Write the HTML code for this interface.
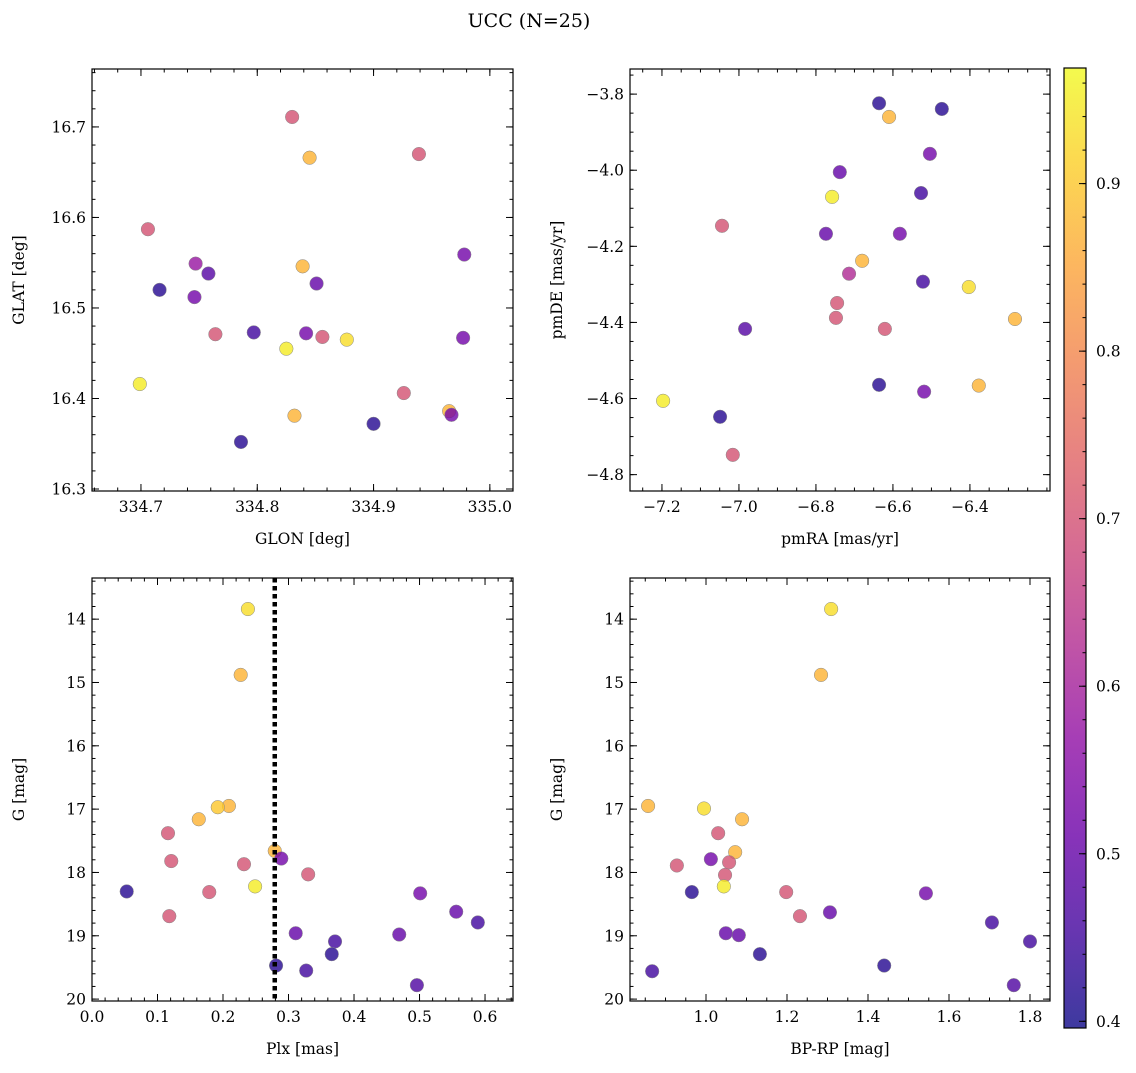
<!DOCTYPE html>
<html><head><meta charset="utf-8"><style>
body{margin:0;background:#fff;}
svg text{font-family:"DejaVu Serif","Liberation Serif",serif;fill:#000;}
</style></head><body>
<svg id="fig" width="1136" height="1068" xmlns="http://www.w3.org/2000/svg">
<text x="529" y="27" font-size="19" text-anchor="middle">UCC (N=25)</text>
</svg>
<script>
// Panel 1: GLON vs GLAT
const p1x=[334.830,334.845,334.939,334.706,334.978,334.747,334.839,334.758,334.716,334.746,334.851,334.764,334.797,334.842,334.856,334.825,334.877,334.977,334.699,334.926,334.832,334.965,334.967,334.900,334.786];
const p1y=[16.711,16.666,16.670,16.587,16.559,16.549,16.546,16.538,16.520,16.512,16.527,16.471,16.473,16.472,16.468,16.455,16.465,16.467,16.416,16.406,16.381,16.386,16.382,16.372,16.352];
const p1c=[0.70,0.87,0.70,0.70,0.52,0.58,0.87,0.48,0.42,0.52,0.50,0.70,0.45,0.52,0.70,0.95,0.93,0.52,0.95,0.70,0.87,0.87,0.52,0.42,0.42];
// Panel 2: pmRA vs pmDE
const p2x=[-6.636,-6.473,-6.610,-6.504,-6.738,-6.527,-6.758,-7.044,-6.774,-6.582,-6.680,-6.714,-6.403,-6.522,-6.745,-6.748,-6.283,-6.984,-6.621,-6.636,-6.377,-6.519,-7.197,-7.049,-7.016];
const p2y=[-3.824,-3.839,-3.860,-3.957,-4.005,-4.060,-4.070,-4.146,-4.167,-4.167,-4.238,-4.272,-4.307,-4.293,-4.349,-4.388,-4.391,-4.417,-4.417,-4.564,-4.566,-4.582,-4.606,-4.648,-4.748];
const p2c=[0.42,0.42,0.87,0.52,0.50,0.45,0.95,0.70,0.50,0.52,0.87,0.62,0.93,0.45,0.70,0.70,0.87,0.48,0.70,0.42,0.87,0.52,0.95,0.42,0.70];
// Panel 3: Plx vs G
const p3x=[0.238,0.227,0.209,0.192,0.163,0.116,0.279,0.289,0.121,0.232,0.330,0.249,0.053,0.179,0.501,0.556,0.118,0.589,0.311,0.469,0.371,0.366,0.281,0.327,0.496];
const p3y=[13.84,14.88,16.95,16.97,17.16,17.38,17.66,17.78,17.82,17.87,18.03,18.22,18.30,18.31,18.33,18.62,18.69,18.79,18.96,18.98,19.09,19.29,19.47,19.55,19.78];
const p3c=[0.93,0.87,0.87,0.90,0.87,0.70,0.87,0.52,0.70,0.70,0.70,0.95,0.42,0.70,0.52,0.50,0.70,0.45,0.50,0.50,0.45,0.42,0.42,0.45,0.47];
const plxLine=0.279;
// Panel 4: BP-RP vs G
const p4x=[1.309,1.284,0.857,0.995,1.089,1.030,1.072,1.012,1.057,0.928,1.047,1.044,0.965,1.198,1.543,1.232,1.306,1.706,1.049,1.081,1.800,1.133,1.440,0.867,1.760];
const p4y=[13.84,14.88,16.95,16.99,17.16,17.38,17.68,17.79,17.84,17.89,18.04,18.22,18.31,18.31,18.33,18.69,18.63,18.79,18.96,18.99,19.09,19.29,19.47,19.56,19.78];
const p4c=[0.93,0.87,0.87,0.93,0.87,0.70,0.87,0.52,0.70,0.70,0.70,0.95,0.42,0.70,0.52,0.70,0.50,0.45,0.50,0.50,0.45,0.42,0.42,0.45,0.47];
const cbTicks=[0.4,0.5,0.6,0.7,0.8,0.9];
const vmin=0.396, vmax=0.969;

const NS='http://www.w3.org/2000/svg';
const svg=document.getElementById('fig');
function mk(tag,attrs,parent){const e=document.createElementNS(NS,tag);for(const k in attrs)e.setAttribute(k,attrs[k]);(parent||svg).appendChild(e);return e;}
const stops=['#0d0887','#41049d','#6a00a8','#8f0da4','#b12a90','#cc4778','#e16462','#f2844b','#fca636','#fcce25','#f0f921'];
function hex(h){return[parseInt(h.substr(1,2),16),parseInt(h.substr(3,2),16),parseInt(h.substr(5,2),16)];}
function plasma(t){t=Math.max(0,Math.min(1,t));const f=t*10;const i=Math.min(9,Math.floor(f));const r=f-i;const a=hex(stops[i]),b=hex(stops[i+1]);return 'rgb('+a.map((v,k)=>Math.round(v+(b[k]-v)*r)).join(',')+')';}
function cmap(v){return plasma((v-vmin)/(vmax-vmin));}

function panel(name,box,xd,yd,xticks,yticks,xminor,yminor,xlab,ylab,xs,ys,cs,xfmt,yfmt){
  const L=box[0],T=box[1],R=box[2],B=box[3];
  const g=mk('g',{});
  
  
  const sx=v=>L+(v-xd[0])/(xd[1]-xd[0])*(R-L);
  const sy=v=>B-(v-yd[0])/(yd[1]-yd[0])*(B-T);
  const marks=mk('g',{},g);
  
  
  for(let i=0;i<xs.length;i++){
    const c=mk('circle',{cx:sx(xs[i]),cy:sy(ys[i]),r:6.8,fill:cmap(cs[i]),'fill-opacity':0.8,stroke:'#888','stroke-width':0.5},marks);
    
    
  }
  mk('rect',{x:L,y:T,width:R-L,height:B-T,fill:'none',stroke:'#000','stroke-width':1.2},g);
  const tk=mk('g',{stroke:'#000','stroke-width':1},g);
  const xlo=Math.min(xd[0],xd[1]),xhi=Math.max(xd[0],xd[1]),ylo=Math.min(yd[0],yd[1]),yhi=Math.max(yd[0],yd[1]);
  for(let k=Math.ceil(xlo/xminor-1e-6);k<=Math.floor(xhi/xminor+1e-6);k++){const x=sx(k*xminor);mk('line',{x1:x,x2:x,y1:B,y2:B-3.5},tk);mk('line',{x1:x,x2:x,y1:T,y2:T+3.5},tk);}
  for(let k=Math.ceil(ylo/yminor-1e-6);k<=Math.floor(yhi/yminor+1e-6);k++){const y=sy(k*yminor);mk('line',{y1:y,y2:y,x1:L,x2:L+3.5},tk);mk('line',{y1:y,y2:y,x1:R,x2:R-3.5},tk);}
  xticks.forEach(v=>{const x=sx(v);mk('line',{x1:x,x2:x,y1:B,y2:B-7},tk);mk('line',{x1:x,x2:x,y1:T,y2:T+7},tk);
    const t=mk('text',{x:x,y:B+21,'font-size':15.5,'text-anchor':'middle'},g);t.textContent=xfmt(v);});
  yticks.forEach(v=>{const y=sy(v);mk('line',{y1:y,y2:y,x1:L,x2:L+7},tk);mk('line',{y1:y,y2:y,x1:R,x2:R-7},tk);
    const t=mk('text',{x:L-6,y:y+5.5,'font-size':15.5,'text-anchor':'end'},g);t.textContent=yfmt(v);});
  const xl=mk('text',{x:(L+R)/2,y:B+53,'font-size':15.5,'text-anchor':'middle'},g);xl.textContent=xlab;
  
  const yx=L-68, yy=(T+B)/2;
  const yl=mk('text',{x:yx,y:yy,'font-size':15.5,'text-anchor':'middle',transform:'rotate(-90 '+yx+' '+yy+')'},g);yl.textContent=ylab;
  
  return {sx:sx,sy:sy,g:g};
}
const neg=s=>s.replace('-','\u2212');
const f1=v=>neg(v.toFixed(1));
const f0=v=>String(v);
const gt=[14,15,16,17,18,19,20];

panel('glon-glat-panel',[92,69,513,491],[334.6579,335.0199],[16.2978,16.764],[334.7,334.8,334.9,335.0],[16.3,16.4,16.5,16.6,16.7],0.02,0.02,'GLON [deg]','GLAT [deg]',p1x,p1y,p1c,f1,f1);
panel('pmra-pmde-panel',[630,69,1050,491],[-7.283,-6.192],[-4.843,-3.734],[-7.2,-7.0,-6.8,-6.6,-6.4],[-4.8,-4.6,-4.4,-4.2,-4.0,-3.8],0.05,0.05,'pmRA [mas/yr]','pmDE [mas/yr]',p2x,p2y,p2c,f1,f1);
const p3=panel('plx-g-panel',[92,578,513,1001],[0,0.6427],[20.03,13.35],[0,0.1,0.2,0.3,0.4,0.5,0.6],gt,0.02,0.2,'Plx [mas]','G [mag]',p3x,p3y,p3c,f1,f0);
const vl=mk('line',{x1:p3.sx(plxLine),x2:p3.sx(plxLine),y1:578,y2:1001,stroke:'#000','stroke-width':4.5,'stroke-dasharray':'4.5,3.5'},p3.g);


panel('bprp-g-panel',[630,578,1050,1001],[0.8123,1.8494],[20.03,13.35],[1.0,1.2,1.4,1.6,1.8],gt,0.05,0.2,'BP-RP [mag]','G [mag]',p4x,p4y,p4c,f1,f0);

const cb=mk('g',{});


const CL=1064,CR=1086,CT=68,CB=1028;
const defs=mk('defs',{});
const grad=mk('linearGradient',{id:'pl',x1:0,y1:1,x2:0,y2:0},defs);
stops.forEach((s,i)=>mk('stop',{offset:(i/10),'stop-color':s},grad));
mk('rect',{x:CL,y:CT,width:CR-CL,height:CB-CT,fill:'url(#pl)','fill-opacity':0.8},cb);
mk('rect',{x:CL,y:CT,width:CR-CL,height:CB-CT,fill:'none',stroke:'#000','stroke-width':1.2},cb);
const cby=v=>CB-(v-vmin)/(vmax-vmin)*(CB-CT);
for(let k=Math.ceil(vmin/0.02);k<=Math.floor(vmax/0.02);k++){const y=cby(k*0.02);mk('line',{x1:CR,x2:CR-3.5,y1:y,y2:y,stroke:'#000'},cb);}
cbTicks.forEach(v=>{const y=cby(v);mk('line',{x1:CR,x2:CR-7,y1:y,y2:y,stroke:'#000'},cb);
  const t=mk('text',{x:CR+10,y:y+5.5,'font-size':15.5},cb);t.textContent=v.toFixed(1);
  });
</script>
</body></html>
